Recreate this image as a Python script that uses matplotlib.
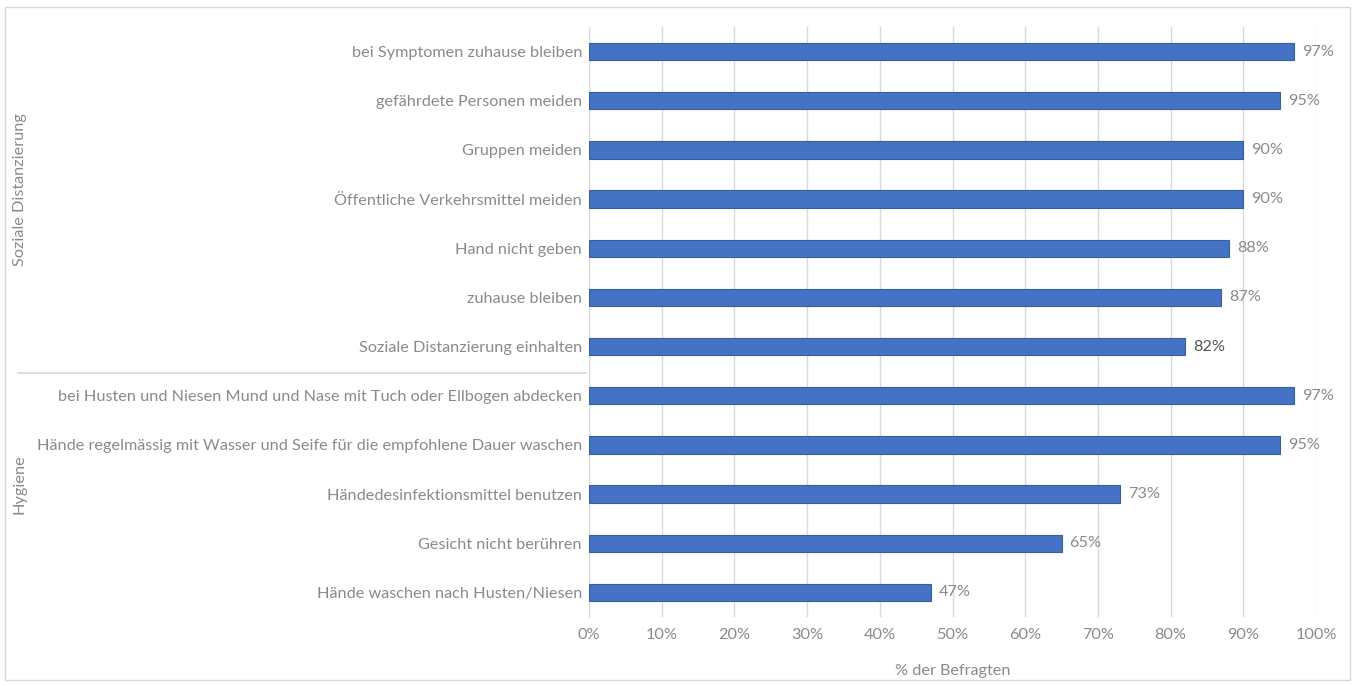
import matplotlib
matplotlib.use("Agg")
import matplotlib.pyplot as plt
from matplotlib.lines import Line2D
from matplotlib.patches import Rectangle

categories = [
    "bei Symptomen zuhause bleiben",
    "gefährdete Personen meiden",
    "Gruppen meiden",
    "Öffentliche Verkehrsmittel meiden",
    "Hand nicht geben",
    "zuhause bleiben",
    "Soziale Distanzierung einhalten",
    "bei Husten und Niesen Mund und Nase mit Tuch oder Ellbogen abdecken",
    "Hände regelmässig mit Wasser und Seife für die empfohlene Dauer waschen",
    "Händedesinfektionsmittel benutzen",
    "Gesicht nicht berühren",
    "Hände waschen nach Husten/Niesen",
]
values = [97, 95, 90, 90, 88, 87, 82, 97, 95, 73, 65, 47]
groups = ["Soziale Distanzierung", "Hygiene"]
group_sizes = [7, 5]
xticks = [0, 10, 20, 30, 40, 50, 60, 70, 80, 90, 100]

FONT = "Lato"
GRAY = "#8a8a8a"
FS = 11.7

W, H = 1355, 686
fig = plt.figure(figsize=(W / 100, H / 100), dpi=100)
ax = fig.add_axes([589 / W, 1 - 617 / H, (1316 - 589) / W, (617 - 27) / H])

y = list(range(len(categories)))
ax.barh(y, values, height=0.35, color="#4472C4", edgecolor="#36609f", linewidth=0.8, zorder=3)
ax.set_ylim(len(categories) - 0.5, -0.5)
ax.set_xlim(0, 100)

for i, v in enumerate(values):
    ax.text(v + 1.1, i, f"{v}%", va="center", ha="left", fontsize=FS, color="#555555" if v == 82 else GRAY,
            family=FONT, clip_on=False)

ax.set_yticks(y)
ax.set_yticklabels(categories, fontsize=FS, color=GRAY, family=FONT)
ax.set_xticks(xticks)
ax.set_xticklabels([f"{t}%" for t in xticks], fontsize=FS, color=GRAY, family=FONT)
ax.tick_params(axis="both", length=0)
ax.tick_params(axis="y", pad=5)
ax.tick_params(axis="x", pad=8)
ax.grid(axis="x", color="#d9d9d9", linewidth=1, zorder=0)
for s in ["top", "right", "bottom"]:
    ax.spines[s].set_visible(False)
ax.spines["left"].set_color("#d9d9d9")
ax.set_xlabel("% der Befragten", fontsize=FS, color=GRAY, family=FONT, labelpad=16)

# group separator and labels (figure coords)
sep_y = 1 - 373 / H
fig.add_artist(Line2D([18 / W, 586 / W], [sep_y, sep_y], color="#d9d9d9", lw=1.2, transform=fig.transFigure))
start = 0
for g, n in zip(groups, group_sizes):
    mid = start + (n - 1) / 2
    yd = ax.transData.transform((0, mid))[1] + 10
    yf = fig.transFigure.inverted().transform((0, yd))[1]
    fig.text(20 / W, yf, g, rotation=90, va="center", ha="center", fontsize=FS, color=GRAY, family=FONT)
    start += n

# outer frame
fig.add_artist(Rectangle((5 / W, 1 - 680 / H), (1350 - 5) / W, (680 - 7) / H, fill=False,
                         edgecolor="#d9d9d9", lw=1, transform=fig.transFigure))

fig.savefig("out.png", dpi=100)
